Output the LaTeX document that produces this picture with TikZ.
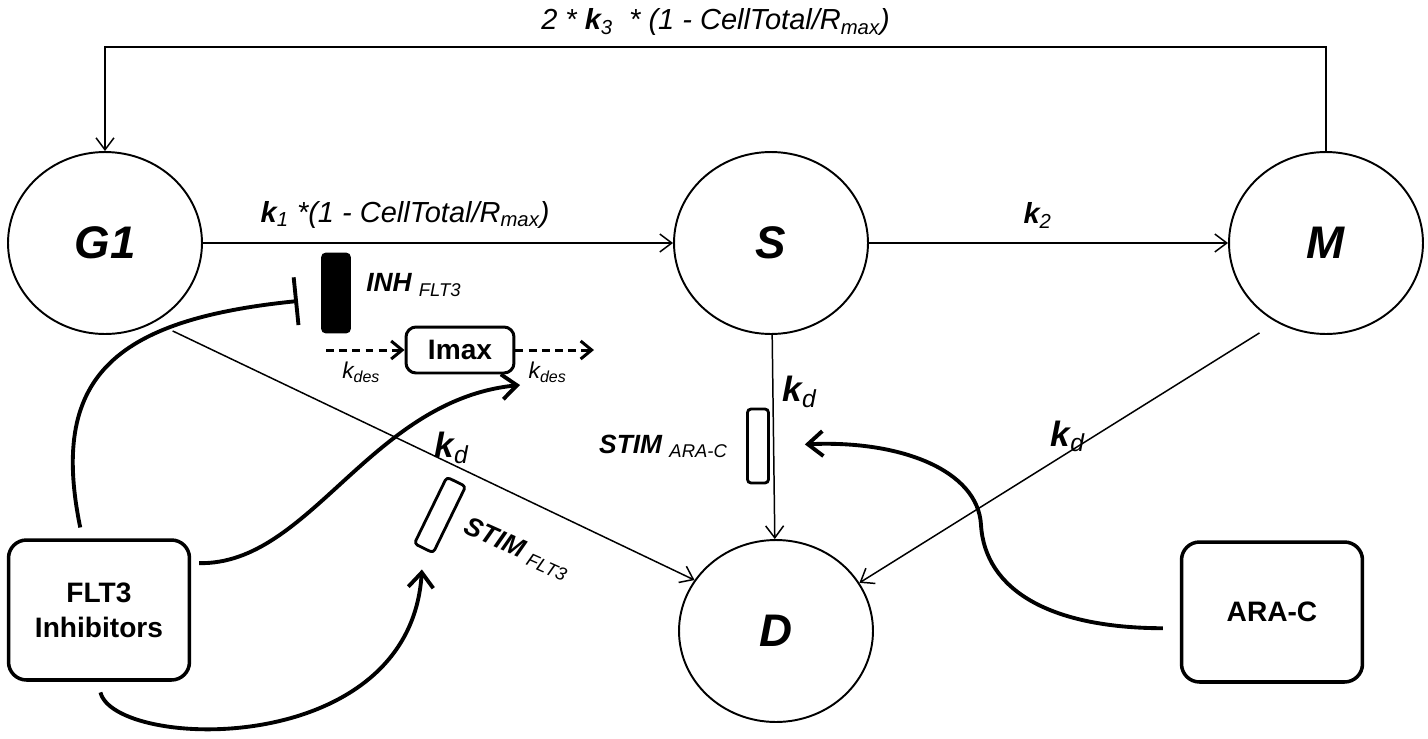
\documentclass[tikz,border=0pt]{standalone}
\usepackage{fontspec}
\setmainfont{Liberation Sans}
\usetikzlibrary{positioning,shapes.geometric,arrows.meta}

\begin{document}
\begin{tikzpicture}[x=0.02cm,y=-0.02cm,
    phase/.style={ellipse,draw,line width=1.1pt,minimum width=3.88cm,minimum height=3.64cm,inner sep=0pt,
        font=\fontsize{26}{30}\selectfont\bfseries\itshape},
    drug/.style={draw,rounded corners=0.36cm,line width=2pt,minimum width=3.62cm,minimum height=2.8cm,
        align=center,font=\fontsize{16}{20}\selectfont\bfseries},
    stim/.style={draw,rounded corners=2pt,line width=1.6pt,minimum width=0.42cm,minimum height=1.48cm,inner sep=0pt},
    inhbox/.style={stim,fill=black,minimum width=0.54cm,minimum height=1.56cm},
    pool/.style={draw,rounded corners=0.2cm,line width=1.7pt,minimum width=2.16cm,minimum height=0.92cm,
        font=\fontsize{16}{19}\selectfont\bfseries},
    flow/.style={line width=0.85pt,-{Straight Barb[length=0.24cm,width=0.36cm]}},
    dflow/.style={line width=1.7pt,dash pattern=on 4.5pt off 3pt,-{Straight Barb[length=0.22cm,width=0.36cm]}},
    curve/.style={line width=2.2pt},
    tip/.style={-{Straight Barb[length=0.3cm,width=0.5cm]}},
    rate/.style={inner sep=0pt,font=\fontsize{16.5}{19}\selectfont\itshape},
    kd/.style={inner sep=0pt,font=\fontsize{20}{24}\selectfont\itshape},
    des/.style={inner sep=0pt,font=\fontsize{13}{15}\selectfont\itshape},
    lbl/.style={inner sep=0pt,font=\fontsize{15}{18}\selectfont\itshape}]
    \useasboundingbox (0,0) rectangle (1428,738);

    % cell cycle
    \node[phase] (G1) at (105,243) {G1};
    \node[phase] (S) at (771,243) {S};
    \node[phase] (M) at (1326,243) {M};
    \node[phase] (D) at (776,631) {D};

    % drugs
    \node[drug] (flt) at (99,610) {FLT3\\Inhibitors};
    \node[drug] (arac) at (1272,612) {ARA-C};

    % drug effects
    \node[inhbox] (inh) at (336,293) {};
    \node[lbl, right=0.3cm of inh, yshift=0.16cm] (inhlbl) {{\bfseries INH} \textsubscript{FLT3}};
    \node[pool] (imax) at (460,350) {Imax};
    \node[stim] (stimara) at (758,446) {};
    \node[lbl, left=0.36cm of stimara] (stimaralbl) {{\bfseries STIM} \textsubscript{ARA-C}};
    \node[stim, rotate=-26] (stimflt) at (440,515) {};
    \node[lbl, rotate=-24] (stimfltlbl) at (517,549) {{\bfseries STIM} \textsubscript{FLT3}};

    \coordinate (desin) at (326,350);
    \coordinate (desout) at (594,350);
    \coordinate (inhbar) at (298,301);
    \coordinate (imaxin) at (520,385);

    % transitions
    \draw[flow] (G1) -- node[rate, pos=0.43, above=8pt]
        {{\bfseries k}\textsubscript{1} *(1 -  CellTotal/R\textsubscript{max})} (S);
    \draw[flow] (S) -- node[rate, pos=0.47, above=8pt] {{\bfseries k}\textsubscript{2}} (M);
    \draw[flow] (M.north) -- ++(0,-104) -| node[rate, pos=0.25, above=6pt]
        {2 * {\bfseries k}\textsubscript{3} \ * (1 -  CellTotal/R\textsubscript{max})} (G1.north);
    \draw[flow] (S) -- node[kd, pos=0.28, right=5pt] {{\bfseries k}\textsubscript{d}} (D);
    \draw[flow, shorten <=0.4cm] (G1.-58) -- node[kd, pos=0.55, above] {{\bfseries k}\textsubscript{d}} (D.148);
    \draw[flow, shorten <=0.4cm] (M.238) -- node[kd, pos=0.5, above] {{\bfseries k}\textsubscript{d}} (D.30);

    % loss of Imax
    \draw[dflow] (desin) -- node[des, pos=0.45, below=0.2cm] {k\textsubscript{des}} (imax);
    \draw[dflow] (imax) -- node[des, pos=0.41, below=0.2cm] {k\textsubscript{des}} (desout);

    % drug actions
    \draw[curve, shorten <=0.22cm, -{Bar[width=0.96cm]}] (flt.103) .. controls (50,380) and (110,320) .. (inhbar);
    \draw[curve, tip, shorten <=0.16cm] (flt.27) .. controls (310,565) and (370,400) .. (imaxin);
    \draw[curve, tip, shorten <=0.22cm, shorten >=0.4cm] (flt.269) .. controls (115,750) and (410,760) .. (stimflt.south);
    \draw[curve, tip, shorten <=0.34cm, shorten >=0.7cm] (arac.190) .. controls (1050,628) and (985,590) .. (981,525)
        .. controls (978,470) and (900,440) .. (stimara.east);
\end{tikzpicture}
\end{document}
